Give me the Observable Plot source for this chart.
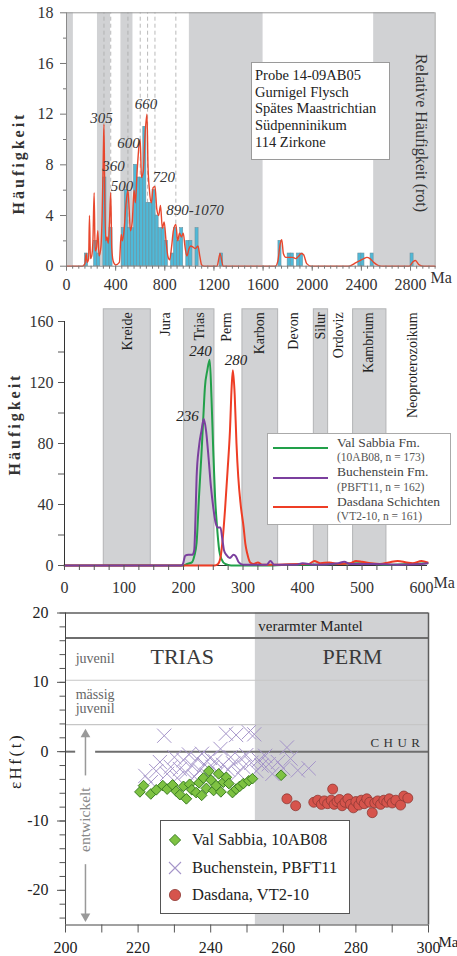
<!DOCTYPE html>
<html><head><meta charset="utf-8">
<script src="https://cdn.jsdelivr.net/npm/d3@7"></script>
<script src="https://cdn.jsdelivr.net/npm/@observablehq/plot@0.6"></script>
<style>
body{margin:0;background:#fff;}
#root{position:relative;width:457px;height:956px;overflow:hidden;font-family:"Liberation Serif","Times New Roman",serif;color:#222;}
</style></head><body><div id="root"></div>
<script>
// ================= DATA =================
// Panel 1: detrital zircon histogram (Probe 14-09AB05)
const hist1Bins   = [150,225,250,300,325,350,450,475,500,525,550,575,600,625,650,675,700,725,750,775,800,850,875,900,925,975,1000,1050,1250,1725,1800,1825,1875,1900,2375,2400,2475,2800];
const hist1Counts = [1,2,1,7,2,3,3,6,3,3,8,7,7,11,5,5,6,4,3,3,2,1,3,2,3,2,2,3,1,2,1,1,1,1,1,1,1,1];
const binWidth1 = 25;
const kdeAge1 = [0,130,150,160,168,180,187,195,205,215,225,233,245,255,265,280,290,300,305,312,320,330,340,350,360,368,380,400,430,445,455,470,485,500,510,520,535,550,560,575,590,600,610,625,640,655,663,675,690,705,720,735,750,765,780,795,810,825,840,855,870,890,905,920,935,950,965,980,995,1010,1030,1050,1070,1085,1100,1120,1225,1250,1275,1700,1720,1740,1752,1765,1785,1810,1840,1865,1890,1910,1930,1955,1990,2300,2360,2420,2445,2470,2500,2540,2580,2790,2820,2840,2870,2900,3000];
const kdeVal1 = [0,0,0.2,1.0,0.3,0.6,4.0,0.6,0.8,2.0,5.8,1.2,1.5,2.8,0.8,1.5,4.0,9.0,11.2,5.0,2.0,2.3,1.8,3.5,5.8,1.5,0.4,0.1,0.3,2.5,2.0,3.0,5.0,6.0,4.5,2.8,3.5,6.0,5.0,7.5,9.5,10.0,7.0,7.5,10.5,12.0,8.0,6.0,5.0,6.2,6.3,4.5,4.0,4.8,3.0,3.5,2.0,0.8,0.5,1.5,2.8,3.3,2.0,2.6,2.3,2.6,1.5,0.8,1.3,1.6,1.5,1.4,1.6,0.8,0.1,0,0,1.0,0,0,0.4,1.8,2.1,1.0,0.7,0.7,0.7,0.6,0.8,1.0,0.9,0.2,0,0,0.3,0.6,0.7,0.6,0.3,0.05,0,0,0.35,0.45,0.1,0,0];
const bands1Start = [0,252,443,1000,2500];
const bands1End   = [56,359,541,1600,3000];
const peakAges1   = [305,360,500,600,660,720,890];
const peakLabels1 = ["305","360","500","600","660","720","890-1070"];
const peakLabelX1 = [285,383,452,505,647,792,1046];
const peakLabelY1 = [11.7,7.9,6.3,9.7,12.75,7.0,4.4];
const yTicks1 = [0,4,8,12,16,20];
const yTickLabels1 = ["0","4","8","12","16","18"];
const yMinor1 = [2,6,10,14,18];
const xTicks1 = [0,400,800,1200,1600,2000,2400,2800];
const xMinor1 = d3.range(0,3001,50);
const infoLines1 = ["Probe 14-09AB05","Gurnigel Flysch","Spätes Maastrichtian","Südpenninikum","114 Zirkone"];

// Panel 2: age spectra
const periodNames = ["Kreide","Jura","Trias","Perm","Karbon","Devon","Silur","Ordoviz","Kambrium","Neoproterozoikum"];
const periodX     = [106,170,227,272,328,385,430,460,511,585];
const bands2Start = [66,201,299,419,485];
const bands2End   = [145,252,359,443,541];
const valAge  = [0,200,206,210,214,218,222,226,230,233,236,240,244,247,250,253,256,260,264,270,280,320,350,380,420,460,500,540,580,610];
const valVal  = [0,0,1,1.5,2,6,15,45,72,95,117,128,135,110,75,45,27,10,4,1,0,0,0,0.5,0.5,1,1.5,0.5,1,1.5];
const bucAge  = [0,196,199,203,208,215,218,220,222,226,230,234,238,242,246,250,254,257,262,265,268,272,278,284,288,293,300,340,346,352,390,400,420,460,470,480,520,560,600,610];
const bucVal  = [0,0,1,6.5,7,7,10,30,58,78,88,96,88,71,52,38,28,25,25,18,10,7,5,7,6,2,0.5,0.5,3,0.5,0.5,1.5,0.5,1.5,2.5,1,1,0.5,1,1.5];
const dasAge  = [0,252,258,262,266,270,274,278,281,283,286,289,292,296,301,304,307,312,318,325,332,360,395,410,420,430,445,460,480,490,500,515,530,545,560,575,585,600,610];
const dasVal  = [0,0,1,5,18,38,62,88,118,128,112,80,58,40,25,14,8,2,1,2,0.5,0.5,1,1,3,1.5,2,1,1.5,3,2.5,1.5,1,2,3,2,1.5,3,2];
const peakLabels2 = ["240","236","280"];
const peakLabelX2 = [228.6,206.7,288];
const peakLabelY2 = [140.3,97.7,134.4];
const yTicks2 = [0,20,40,60,80,100,120,140,160];
const xTicks2 = d3.range(0,601,25);
const legend2Names = ["Val Sabbia Fm.","Buchenstein Fm.","Dasdana Schichten"];
const legend2Subs  = ["(10AB08, n = 173)","(PBFT11, n = 162)","(VT2-10, n = 161)"];
const colors2 = ["#22a04a","#7b3f9e","#ee3d25"];

// Panel 3: epsilon Hf(t)
const valX = [220.5,221.5,223.5,225,226.8,228,229.5,230.5,231.5,232.5,233.3,234.2,234.8,236,236.8,237.5,238,238.8,239.5,240.1,240.8,241.5,242.2,242.8,243.5,244.3,245,246,247,248,249,250.5,251.5,259.4];
const valY = [-5.8,-4.9,-6.1,-5.5,-4.9,-5.4,-4.8,-5.7,-6.2,-5.0,-6.8,-4.7,-5.5,-5.9,-4.5,-6.3,-3.8,-5.3,-2.8,-4.1,-5.6,-4.9,-3.2,-5.8,-4.4,-3.7,-4.6,-5.9,-5.4,-5.0,-4.6,-4.2,-3.9,-3.4];
const bucX = [222,223.5,225,226,227.2,228,229,230,230.8,231.5,232.5,233.2,234,234.8,235.5,236.2,237,237.6,238.2,239,239.8,240.5,241.2,242,242.7,243.4,244.2,244.8,245.5,246.2,247,247.6,248.3,249,249.8,250.5,251.2,252,252.6,253.3,254,255,256,257,258.5,260,261,262,264,267];
const bucY = [-3.5,-4.4,-2.8,-1.5,2.3,-3.2,-2.2,-0.8,-3.8,-2.5,-1.2,-3.0,-0.4,-2.0,-3.6,-1.0,-2.7,-0.3,-1.8,-3.3,-0.9,-2.2,-1.4,-3.0,0.4,-1.9,2.6,-2.6,-0.8,-1.7,2.4,-3.1,-1.0,-2.2,-0.5,2.8,-1.6,2.5,-2.8,-1.2,-2.0,-0.6,-1.8,-3.2,-1.5,-2.4,0.6,-1.0,-2.7,-2.4];
const dasX = [261,263.4,268.4,269.5,270.5,271.3,272.2,273.2,273.6,274,274.8,275.5,276.2,277,277.8,278.5,279.3,280,280.8,281.5,282.3,283,283.8,284.5,285.2,286,286.8,287.7,288.5,289.2,290,291,292.3,293.2,294.3];
const dasY = [-6.8,-7.8,-7.3,-7.0,-7.6,-7.1,-7.5,-7.0,-5.4,-7.6,-7.2,-6.9,-7.8,-7.3,-6.8,-7.6,-8.1,-7.2,-7.7,-7.0,-7.5,-6.8,-7.3,-8.8,-7.4,-7.1,-7.6,-7.0,-7.3,-6.8,-7.4,-7.0,-7.7,-6.4,-6.7];
const permStart = 252.3, permEnd = 300;
const mantelLevel = 16.4, chur = 0;
const guideLevels = [10.3, 3.9];
const yTicks3 = [-20,-10,0,10,20];
const yMinor3 = d3.range(-24,21,2);
const xTicks3 = d3.range(200,301,10);
const legend3Names = ["Val Sabbia, 10AB08","Buchenstein, PBFT11","Dasdana, VT2-10"];

// ================= HELPERS =================
const SERIF = '"Liberation Serif","Times New Roman",serif';
const root = document.getElementById("root");
function placeSvg(el, top){ el.style.position="absolute"; el.style.left="0px"; el.style.top=top+"px"; root.appendChild(el); }
function addDiv(html, css){ const d=document.createElement("div"); d.style.cssText="position:absolute;"+css; d.innerHTML=html; root.appendChild(d); return d; }
function rotLabel(text, cx, cy, deg, css){ addDiv(text, `left:${cx}px;top:${cy}px;transform:translate(-50%,-50%) rotate(${deg}deg);white-space:nowrap;line-height:1;${css}`); }
const baseStyle = {fontFamily:SERIF, fontSize:"16px", color:"#333", overflow:"visible", background:"transparent"};

// ================= PANEL 1 =================
const hist1 = hist1Bins.map((b,i)=>({x1:b, x2:b+binWidth1, n:hist1Counts[i]}));
const kde1 = kdeAge1.map((a,i)=>({age:a, v:kdeVal1[i]}));
const bands1 = bands1Start.map((s,i)=>({x1:s, x2:bands1End[i]}));
const labels1 = peakLabels1.map((t,i)=>({t, x:peakLabelX1[i], y:peakLabelY1[i]}));

const p1 = Plot.plot({
  width:457, height:290, marginLeft:66, marginRight:22.4, marginTop:12.3, marginBottom:24.3,
  x:{domain:[0,3000]}, y:{domain:[0,20]},
  style:baseStyle,
  marks:[
    Plot.rect(bands1,{x1:"x1",x2:"x2",y1:0,y2:20,fill:"#d1d2d4"}),
    Plot.ruleX(peakAges1,{x:d=>d,y1:0,y2:20,stroke:"#a8a8a8",strokeDasharray:"4,3",strokeWidth:0.8}),
    Plot.rect(hist1,{x1:"x1",x2:"x2",y1:0,y2:"n",fill:"#4fb9d8",stroke:"#6a929f",strokeWidth:0.6}),
    Plot.line(kde1,{x:"age",y:"v",stroke:"#e8472d",strokeWidth:1.4,curve:"monotone-x"}),
    Plot.text(labels1,{x:"x",y:"y",text:"t",fontStyle:"italic",fontSize:15,fill:"#333"}),
    Plot.ruleY([20],{stroke:"#9a9a9a"}),
    Plot.ruleX([3000],{stroke:"#9a9a9a"}),
    Plot.ruleX([0],{stroke:"#8a8a8a"}),
    Plot.ruleY([0],{stroke:"#8a8a8a"}),
    Plot.axisY({ticks:yMinor1,tickSize:3,text:null,stroke:"#777"}),
    Plot.axisY({ticks:yTicks1,tickSize:6,tickPadding:7,tickFormat:d=>yTickLabels1[yTicks1.indexOf(d)],fontSize:16,fill:"#333",stroke:"#777"}),
    Plot.axisX({ticks:xMinor1,tickSize:3,text:null,stroke:"#777"}),
    Plot.axisX({ticks:xTicks1,tickSize:5,tickPadding:7,tickFormat:d=>String(d),fontSize:16,fill:"#333",stroke:"#777"}),
    Plot.text(["Ma"],{frameAnchor:"bottom-right",dx:-4.6,dy:17,textAnchor:"start",fontSize:16,fill:"#333"})
  ]
});
placeSvg(p1, 0);
rotLabel("Häufigkeit", 19, 163, -90, "font-size:16px;font-weight:bold;letter-spacing:3px;color:#333;");
rotLabel("Relative Häufigkeit (rot)", 421, 133, 90, "font-size:16px;color:#333;");
{
  addDiv("", "left:251px;top:62px;width:139px;height:98px;box-sizing:border-box;border:1px solid #9a9a9a;background:#fff;");
  infoLines1.forEach((t,i)=>{
    const cy = 75 + i*16.7;
    addDiv(t, `left:255px;top:${cy-8}px;height:16px;line-height:16px;font-size:14.5px;color:#222;white-space:nowrap;`);
  });
}

// ================= PANEL 2 =================
const bands2 = bands2Start.map((s,i)=>({x1:s, x2:bands2End[i]}));
const periods = periodNames.map((n,i)=>({n, x:periodX[i]}));
const mk = (ages, vals) => ages.map((a,i)=>({age:a, v:vals[i]}));
const series2 = [mk(valAge,valVal), mk(bucAge,bucVal), mk(dasAge,dasVal)];
const labels2 = peakLabels2.map((t,i)=>({t, x:peakLabelX2[i], y:peakLabelY2[i]}));

const p2 = Plot.plot({
  width:457, height:310, marginLeft:64, marginRight:30, marginTop:18.8, marginBottom:35,
  x:{domain:[0,610]}, y:{domain:[0,168]},
  style:baseStyle,
  marks:[
    Plot.rect(bands2,{x1:"x1",x2:"x2",y1:0,y2:168,fill:"#d1d2d4",stroke:"#b3b4b6",strokeWidth:1}),
    Plot.text(periods,{x:"x",y:168,text:"n",rotate:-90,textAnchor:"end",dy:3,fontSize:14,fill:"#222"}),
    Plot.ruleY([0],{stroke:"#333"}),
    Plot.line(series2[0],{x:"age",y:"v",stroke:colors2[0],strokeWidth:2,curve:"monotone-x"}),
    Plot.line(series2[2],{x:"age",y:"v",stroke:colors2[2],strokeWidth:2,curve:"monotone-x"}),
    Plot.line(series2[1],{x:"age",y:"v",stroke:colors2[1],strokeWidth:2,curve:"monotone-x"}),
    Plot.text(labels2,{x:"x",y:"y",text:"t",fontStyle:"italic",fontSize:15,fill:"#222"}),
    Plot.ruleX([0],{y1:0,y2:160,stroke:"#333"}),
    Plot.axisY({ticks:yTicks2,tickSize:6,tickPadding:5,tickFormat:d=>d%40===0?String(d):"",fontSize:16,fill:"#333",stroke:"#555"}),
    Plot.axisX({ticks:xTicks2,tickSize:5,tickPadding:11,tickFormat:d=>d%100===0?String(d):"",fontSize:16,fill:"#333",stroke:"#555"}),
    Plot.text(["Ma"],{frameAnchor:"bottom-right",dx:6,dy:22,textAnchor:"start",fontSize:16,fill:"#333"})
  ]
});
placeSvg(p2, 290);
rotLabel("Häufigkeit", 15, 424, -90, "font-size:16px;font-weight:bold;letter-spacing:3px;color:#333;");
{
  addDiv("", "left:267px;top:433px;width:184px;height:92px;box-sizing:border-box;border:1px solid #aaa;background:#fff;");
  const lineY = [448,478,507], mainY=[442.5,472,501.5], subY=[457,486.5,516];
  legend2Names.forEach((n,i)=>{
    addDiv("", `left:273px;top:${lineY[i]-1.1}px;width:55px;height:2.2px;background:${colors2[i]};`);
    addDiv(n, `left:337px;top:${mainY[i]-7}px;height:14px;line-height:14px;font-size:13.5px;color:#444;white-space:nowrap;`);
    addDiv(legend2Subs[i], `left:337px;top:${subY[i]-6}px;height:12px;line-height:12px;font-size:11.5px;color:#555;white-space:nowrap;`);
  });
}

// ================= PANEL 3 =================
const val3 = valX.map((x,i)=>({x, y:valY[i]}));
const buc3 = bucX.map((x,i)=>({x, y:bucY[i]}));
const das3 = dasX.map((x,i)=>({x, y:dasY[i]}));
const arrowX = 205.5;
const arrowShafts = [{y1:-3.5,y2:2.5},{y1:-16.3,y2:-23.8}];
const arrowHeads = [{y:2.49,r:0},{y:-23.76,r:180}];
const notesStart = [
  {t:"juvenil", x:202.8, y:13.4, s:14, c:"#666"},
  {t:"TRIAS", x:223.4, y:13.6, s:22, c:"#3a3a3a"},
  {t:"PERM", x:270.8, y:13.6, s:22, c:"#3a3a3a"},
  {t:"mässig", x:202.8, y:8.2, s:14, c:"#666"},
  {t:"juvenil", x:202.8, y:6.2, s:14, c:"#666"},
  {t:"CHUR", x:284.0, y:1.3, s:13, c:"#333"}
];
const notesMiddle = [{t:"verarmter Mantel", x:267.5, y:18.1, s:15, c:"#222"}];

const p3 = Plot.plot({
  width:457, height:356, marginLeft:65, marginRight:29, marginTop:12.5, marginBottom:31.5,
  x:{domain:[200,300]}, y:{domain:[-25,20]},
  style:baseStyle,
  marks:[
    Plot.rect([{x1:permStart,x2:permEnd}],{x1:"x1",x2:"x2",y1:-25,y2:20,fill:"#d1d2d4"}),
    Plot.ruleY(guideLevels,{stroke:"#c6c6c6",strokeWidth:1.2}),
    Plot.ruleY([mantelLevel],{stroke:"#6e6e6e",strokeWidth:2}),
    Plot.ruleY([chur, chur],{x1:[200,208.3],x2:[202.8,300],stroke:"#6e6e6e",strokeWidth:2}),
    Plot.ruleX(arrowShafts,{x:arrowX,y1:"y1",y2:"y2",stroke:"#999",strokeWidth:1.5}),
    Plot.dot(arrowHeads,{x:arrowX,y:"y",rotate:"r",symbol:"triangle",r:3.6,fill:"#999",stroke:null}),
    Plot.text(["entwickelt"],{x:arrowX,y:-9.8,rotate:-90,fontSize:15.5,fill:"#888"}),
    Plot.text(notesStart,{x:"x",y:"y",text:"t",fontSize:"s",fill:"c",textAnchor:"start"}),
    Plot.text(notesMiddle,{x:"x",y:"y",text:"t",fontSize:"s",fill:"c",textAnchor:"middle"}),
    Plot.ruleY([20],{stroke:"#5e5e5e",strokeWidth:1.5}),
    Plot.ruleX([300],{stroke:"#5e5e5e",strokeWidth:1.5}),
    Plot.dot(buc3,{x:"x",y:"y",symbol:"times",r:6.5,stroke:"#a595c9",strokeWidth:1}),
    Plot.dot(val3,{x:"x",y:"y",symbol:"diamond2",r:4.8,fill:"#7ec242",stroke:"#3a7d23",strokeWidth:1}),
    Plot.dot(das3,{x:"x",y:"y",symbol:"circle",r:5,fill:"#d6544c",stroke:"#8e3a35",strokeWidth:0.8}),
    Plot.ruleX([200],{stroke:"#444"}),
    Plot.ruleY([-25],{stroke:"#444"}),
    Plot.axisY({ticks:yMinor3,tickSize:5.5,text:null,stroke:"#555"}),
    Plot.axisY({ticks:yTicks3,tickSize:8,tickPadding:9,tickFormat:d=>String(d),fontSize:16,fill:"#222",stroke:"#555"}),
    Plot.axisX({ticks:xTicks3,tickSize:8,tickPadding:9,tickFormat:d=>d%20===0?String(d):"",fontSize:16,fill:"#222",stroke:"#555"}),
    Plot.text(["Ma"],{frameAnchor:"bottom-right",dx:10,dy:22,textAnchor:"start",fontSize:15,fill:"#222"})
  ]
});
d3.select(p3).selectAll("text").filter(function(){return this.textContent==="CHUR";}).attr("letter-spacing","4.5px");
placeSvg(p3, 600);
rotLabel("εHf(t)", 15, 761, -90, "font-size:17px;letter-spacing:2.5px;color:#222;");
{
  addDiv("", "left:160px;top:820px;width:190px;height:94px;box-sizing:border-box;border:1px solid #555;background:#fff;");
  const cy = [840,868,895];
  const sym = [
    '<svg width="16" height="16" viewBox="-8 -8 16 16"><path d="M0,-5.6L5.6,0L0,5.6L-5.6,0Z" fill="#7ec242" stroke="#3a7d23" stroke-width="1"/></svg>',
    '<svg width="16" height="16" viewBox="-8 -8 16 16"><path d="M-6,-6L6,6M-6,6L6,-6" stroke="#a595c9" stroke-width="1.1"/></svg>',
    '<svg width="16" height="16" viewBox="-8 -8 16 16"><circle r="5.6" fill="#d6544c" stroke="#8e3a35" stroke-width="0.8"/></svg>'
  ];
  legend3Names.forEach((n,i)=>{
    addDiv(sym[i], `left:${175-8}px;top:${cy[i]-8}px;width:16px;height:16px;line-height:0;`);
    addDiv(n, `left:192px;top:${cy[i]-9}px;height:18px;line-height:18px;font-size:16.5px;color:#222;white-space:nowrap;`);
  });
}
</script></body></html>
